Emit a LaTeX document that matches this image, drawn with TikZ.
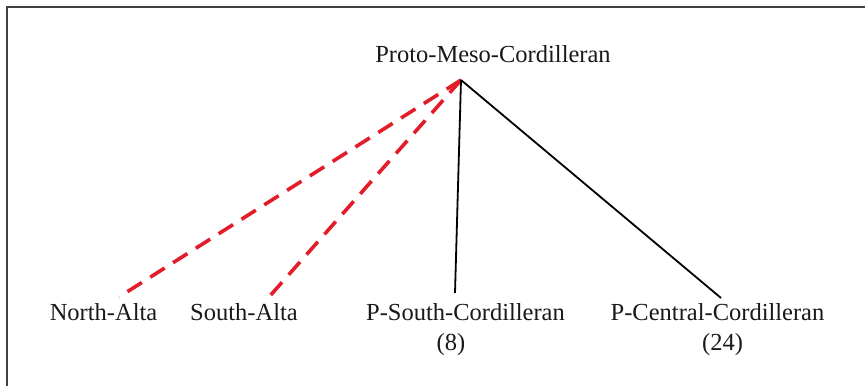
\documentclass[tikz,border=0pt]{standalone}
\usepackage{fontspec}
\setmainfont{Liberation Serif}
\definecolor{dashred}{RGB}{226,28,40}
\begin{document}
\begin{tikzpicture}[x=1pt,y=-1pt,
  lbl/.style={inner sep=0pt,anchor=base,font=\fontsize{24.5}{28}\selectfont,text=black!90},
  redline/.style={draw=dashred,line width=3.6pt,dash pattern=on 17pt off 10pt},
  blackline/.style={draw=black,line width=1.8pt},
  frameline/.style={draw=black!75,line width=2.4pt}]
\useasboundingbox (0,0) rectangle (865,386);
\coordinate (fa) at (7,386);
\coordinate (fb) at (7,7);
\coordinate (fc) at (865,7);
\draw[frameline] (fa) -- (fb) -- (fc);
\node[lbl] (root) at (493,62) {Proto-Meso-Cordilleran};
\node[lbl] (na) at (103.5,320) {North-Alta};
\node[lbl] (sa) at (244,320) {South-Alta};
\node[lbl] (ps) at (465.5,320) {P-South-Cordilleran};
\node[lbl] (ps2) at (451,350) {(8)};
\node[lbl] (pc) at (717.5,320) {P-Central-Cordilleran};
\node[lbl] (pc2) at (722.5,350) {(24)};
\coordinate (apex) at (461,80);
\coordinate (naT) at (119,297);
\coordinate (saT) at (269,297);
\coordinate (psT) at (455,293);
\coordinate (pcT) at (721,298);
\draw[redline] (apex) -- (naT);
\draw[redline] (apex) -- (saT);
\draw[blackline] (apex) -- (psT);
\draw[blackline] (apex) -- (pcT);
\end{tikzpicture}
\end{document}
